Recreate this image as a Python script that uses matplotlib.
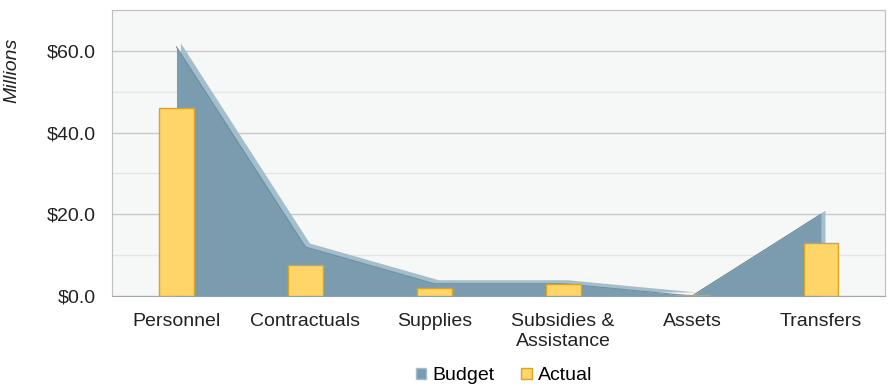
import numpy as np
import matplotlib.pyplot as plt
import matplotlib.transforms as mtransforms
from matplotlib.patches import Patch

plt.rcParams['font.family'] = ['Liberation Sans', 'DejaVu Sans']

categories = ["Personnel", "Contractuals", "Supplies", "Subsidies &\nAssistance", "Assets", "Transfers"]
budget = [61.0, 12.0, 3.0, 3.0, 0.0, 20.0]
actual = [46.0, 7.5, 2.0, 3.0, 0.2, 13.0]

x = np.arange(len(categories))

fig = plt.figure(figsize=(8.92, 3.92), dpi=100)
ax = fig.add_axes([0.1256, 0.245, 0.867, 0.729])
ax.set_facecolor("#F6F7F7")

# grid lines: strong every 20, faint every 10
ax.set_ylim(0, 70)
ax.set_xlim(-0.5, len(categories) - 0.5)
ax.set_yticks([0, 20, 40, 60])
ax.set_yticks([10, 30, 50, 70], minor=True)
ax.yaxis.grid(True, which="major", color="#C9C9C9", linewidth=1.0)
ax.yaxis.grid(True, which="minor", color="#E4E6E6", linewidth=1.0)
ax.set_axisbelow(True)

# 3D-ish area for budget: lighter back face shifted up/right, darker front face
back = mtransforms.offset_copy(ax.transData, fig=fig, x=4, y=4, units="dots")
ax.fill_between(x, budget, 0, color="#A3BFCE", linewidth=0, transform=back, zorder=2)
ax.fill_between(x, budget, 0, color="#7B9CAE", linewidth=0, zorder=3)
ax.plot(x, budget, color="#6E8FA2", linewidth=0.8, zorder=3)

# actual bars
ax.bar(x, actual, width=0.27, color="#FFD468", edgecolor="#D9A520", linewidth=1.0, zorder=4)

for s in ["left", "right", "top", "bottom"]:
    ax.spines[s].set_color("#BFBFBF")
ax.spines["bottom"].set_color("#A6A6A6")

ax.set_xticks(x)
ax.set_xticklabels(categories, fontsize=14, color="#222222", linespacing=1.25)
ax.yaxis.set_major_formatter(plt.FuncFormatter(lambda v, p: f"${v:.1f}"))
ax.tick_params(axis="y", labelsize=14, colors="#222222", length=0, pad=12)
ax.tick_params(axis="y", which="minor", length=0)
ax.tick_params(axis="x", length=0, pad=12)
ax.set_ylabel("Millions", fontsize=14, style="italic", color="#222222")
ax.yaxis.set_label_coords(-0.119, 0.79)

handles = [Patch(facecolor="#7B9CAE", edgecolor="#A3BFCE"),
           Patch(facecolor="#FFD468", edgecolor="#D9A520")]
fig.legend(handles, ["Budget", "Actual"], loc="lower center", bbox_to_anchor=(0.565, -0.025),
           ncol=2, frameon=False, fontsize=14, handlelength=0.55, handleheight=0.55,
           handletextpad=0.3, columnspacing=1.4)

plt.savefig("out.png", dpi=100)
plt.close()
